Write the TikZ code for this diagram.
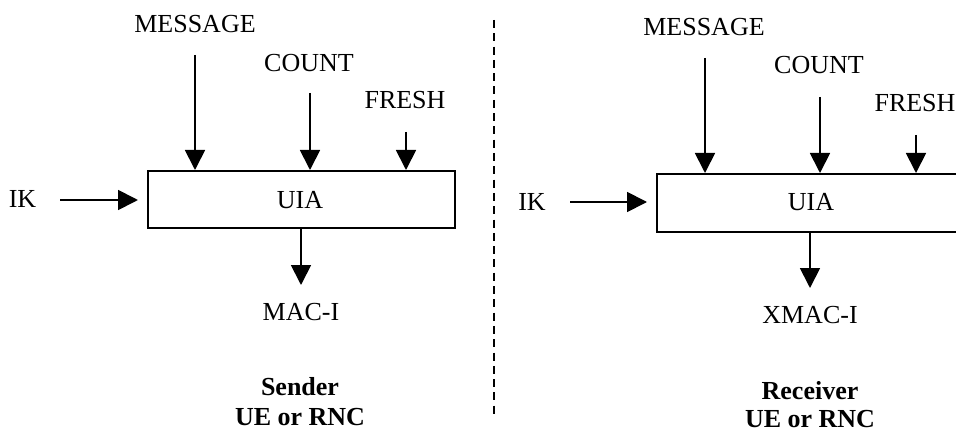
\documentclass[tikz,border=0pt]{standalone}
\usepackage{fontspec}
\setmainfont{Liberation Serif}
\usetikzlibrary{arrows.meta}
\begin{document}
\begin{tikzpicture}[x=1pt,y=-1pt,
  lbl/.style={inner sep=0pt, font=\fontsize{26}{30}\selectfont},
  blbl/.style={inner sep=0pt, align=center, font=\fontsize{26}{30}\selectfont\bfseries},
  arr/.style={line width=1.8pt, -{Triangle[width=20pt,length=20pt]}},
  uiabox/.style={draw, line width=2pt, inner sep=0pt}]
\clip (0,0) rectangle (956,433);
\fill[white] (0,0) rectangle (956,433);
% ---------- Sender ----------
\node[uiabox, minimum width=307pt, minimum height=57pt] (boxL) at (301.5,199.5) {};
\node[lbl] (uiaL) at (300,200) {UIA};
\node[lbl] (msgL) at (195,24) {MESSAGE};
\node[lbl] (cntL) at (309,63) {COUNT};
\node[lbl] (frL) at (405,100) {FRESH};
\node[lbl] (ikL) at (22.5,199) {IK};
\node[lbl] (macL) at (301,312) {MAC-I};
\node[blbl] (sndL) at (300,402) {Sender\\UE or RNC};
\coordinate (msgLs) at (195,55);
\coordinate (cntLs) at (310,93);
\coordinate (frLs) at (406,132);
\coordinate (ikLs) at (60,200);
\coordinate (ikLe) at (138,200);
\coordinate (macLe) at (301,285);
\draw[arr] (msgLs) -- (msgLs |- boxL.north);
\draw[arr] (cntLs) -- (cntLs |- boxL.north);
\draw[arr] (frLs) -- (frLs |- boxL.north);
\draw[arr] (ikLs) -- (ikLe);
\draw[arr] (macLe |- boxL.south) -- (macLe);
% ---------- divider ----------
\coordinate (divT) at (494,20);
\coordinate (divB) at (494,418);
\draw[line width=2pt, dash pattern=on 8pt off 5.3pt] (divT) -- (divB);
% ---------- Receiver ----------
\node[uiabox, minimum width=307pt, minimum height=58pt] (boxR) at (810.5,203) {};
\node[lbl] (uiaR) at (811,202) {UIA};
\node[lbl] (msgR) at (704,27) {MESSAGE};
\node[lbl] (cntR) at (819,65) {COUNT};
\node[lbl] (frR) at (915,103) {FRESH};
\node[lbl] (ikR) at (532,202) {IK};
\node[lbl] (macR) at (810,315) {XMAC-I};
\node[blbl, font=\fontsize{26}{28}\selectfont\bfseries] (rcvR) at (810,405) {Receiver\\UE or RNC};
\coordinate (msgRs) at (705,58);
\coordinate (cntRs) at (820,97);
\coordinate (frRs) at (916,135);
\coordinate (ikRs) at (570,202);
\coordinate (ikRe) at (647,202);
\coordinate (macRe) at (810,288);
\draw[arr] (msgRs) -- (msgRs |- boxR.north);
\draw[arr] (cntRs) -- (cntRs |- boxR.north);
\draw[arr] (frRs) -- (frRs |- boxR.north);
\draw[arr] (ikRs) -- (ikRe);
\draw[arr] (macRe |- boxR.south) -- (macRe);
\end{tikzpicture}
\end{document}
